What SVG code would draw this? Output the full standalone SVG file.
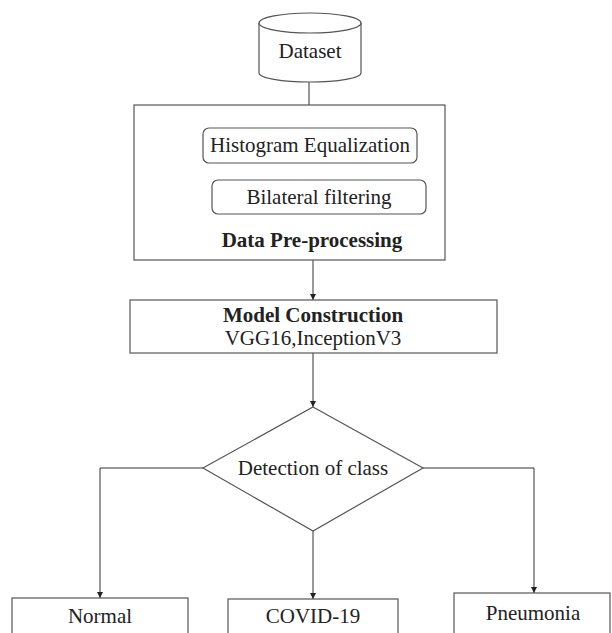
<svg xmlns="http://www.w3.org/2000/svg" width="612" height="633" viewBox="0 0 612 633">
<defs>
<style>
.box{fill:#fff;stroke:#555;stroke-width:1.2}
.t{font-family:'Liberation Serif','Tinos','DejaVu Serif',serif;font-size:21px;fill:#222;text-anchor:middle}
.b{font-weight:bold}
.c{fill:none;stroke:#333;stroke-width:1}
</style>
<marker id="ah" viewBox="0 0 10 10" refX="10" refY="5" markerWidth="6" markerHeight="6" orient="auto" markerUnits="userSpaceOnUse">
<path d="M0,0 L10,5 L0,10 z" fill="#222"/>
</marker>
</defs>
<rect width="612" height="633" fill="#fff"/>
<g id="connectors">
<line class="c" x1="309" y1="82" x2="309" y2="105"/>
<line class="c" x1="313" y1="260" x2="313" y2="300" marker-end="url(#ah)"/>
<line class="c" x1="313" y1="353" x2="313" y2="407" marker-end="url(#ah)"/>
<polyline class="c" points="203,468 100,468 100,598" marker-end="url(#ah)"/>
<line class="c" x1="313" y1="531" x2="313" y2="599" marker-end="url(#ah)"/>
<polyline class="c" points="423,468 534,468 534,593" marker-end="url(#ah)"/>
</g>
<g id="dataset">
<path class="box" d="M259,23 L259,73 A51,9 0 0 0 361,73 L361,23"/>
<ellipse class="box" cx="310" cy="23" rx="51" ry="10"/>
<text class="t" x="310" y="58" font-family="Liberation Serif, serif">Dataset</text>
</g>
<g id="preprocessing">
<rect class="box" x="134" y="105" width="311" height="155"/>
<text class="t b" x="312" y="247">Data Pre-processing</text>
</g>
<g id="histogram">
<rect class="box" x="203" y="128" width="214" height="35" rx="6"/>
<text class="t" x="310" y="152">Histogram Equalization</text>
</g>
<g id="bilateral">
<rect class="box" x="212" y="180" width="214" height="34" rx="6"/>
<text class="t" x="319" y="204">Bilateral filtering</text>
</g>
<g id="model">
<rect class="box" x="130" y="300" width="367" height="53"/>
<text class="t b" x="313" y="322">Model Construction</text>
<text class="t" x="313" y="345">VGG16,InceptionV3</text>
</g>
<g id="detection">
<polygon class="box" points="313,407 423,468 313,531 203,468"/>
<text class="t" x="313" y="475">Detection of class</text>
</g>
<g id="normal">
<rect class="box" x="12" y="598" width="176" height="45"/>
<text class="t" x="100" y="623">Normal</text>
</g>
<g id="covid">
<rect class="box" x="228" y="599" width="170" height="45"/>
<text class="t" x="313" y="623">COVID-19</text>
</g>
<g id="pneumonia">
<rect class="box" x="454" y="593" width="156" height="50"/>
<text class="t" x="533" y="620">Pneumonia</text>
</g>
</svg>
